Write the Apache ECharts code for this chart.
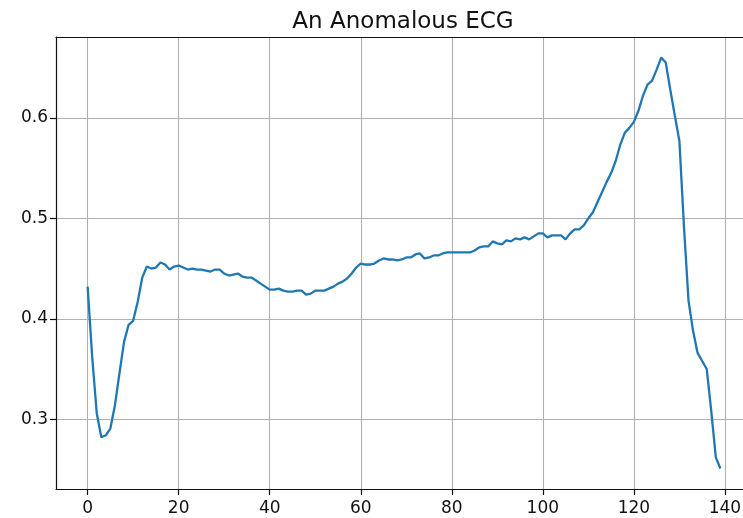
<!DOCTYPE html>
<html>
<head>
<meta charset="utf-8">
<script src="https://cdn.jsdelivr.net/npm/echarts@6/dist/echarts.min.js"></script>
<style>
html,body{margin:0;padding:0;background:#fff;overflow:hidden;width:743px;height:518px;}
#chart{width:753px;height:518px;}
</style>
</head>
<body>
<div id="chart"></div>
<script>
const titleText = "An Anomalous ECG";
const xTicks = [0, 20, 40, 60, 80, 100, 120, 140];
const yTicks = [0.3, 0.4, 0.5, 0.6];
const ecgValues = [
  0.432, 0.362, 0.306, 0.282, 0.284, 0.291, 0.314, 0.346, 0.377, 0.394,
  0.398, 0.417, 0.441, 0.452, 0.450, 0.451, 0.456, 0.454, 0.449, 0.452,
  0.453, 0.451, 0.449, 0.450, 0.449, 0.449, 0.448, 0.447, 0.449, 0.449,
  0.445, 0.443, 0.444, 0.445, 0.442, 0.441, 0.441, 0.438, 0.435, 0.432,
  0.429, 0.429, 0.430, 0.428, 0.427, 0.427, 0.428, 0.428, 0.424, 0.425,
  0.428, 0.428, 0.428, 0.430, 0.432, 0.435, 0.437, 0.440, 0.445, 0.451,
  0.455, 0.454, 0.454, 0.455, 0.458, 0.460, 0.459, 0.459, 0.458, 0.459,
  0.461, 0.461, 0.464, 0.465, 0.460, 0.461, 0.463, 0.463, 0.465, 0.466,
  0.466, 0.466, 0.466, 0.466, 0.466, 0.468, 0.471, 0.472, 0.472, 0.477,
  0.475, 0.474, 0.478, 0.477, 0.480, 0.479, 0.481, 0.479, 0.482, 0.485,
  0.485, 0.481, 0.483, 0.483, 0.483, 0.479, 0.485, 0.489, 0.489, 0.493,
  0.500, 0.506, 0.516, 0.526, 0.536, 0.545, 0.557, 0.573, 0.585, 0.590,
  0.596, 0.607, 0.622, 0.633, 0.637, 0.648, 0.660, 0.655, 0.628, 0.602,
  0.577, 0.492, 0.418, 0.388, 0.366, 0.358, 0.350, 0.308, 0.262, 0.251
];

const points = ecgValues.map((v, i) => [i, v]);
const n = ecgValues.length;
const xPad = (n - 1) * 0.05;
const yMinV = Math.min(...ecgValues), yMaxV = Math.max(...ecgValues);
const yPad = (yMaxV - yMinV) * 0.05;

const chart = echarts.init(document.getElementById('chart'), null, {renderer: 'canvas', width: 753, height: 518});
const font = 'DejaVu Sans';
const spine = {show: true, onZero: false, lineStyle: {color: '#111', width: 1.2}};
chart.setOption({
  animation: false,
  backgroundColor: '#ffffff',
  title: {
    text: titleText,
    left: 398, top: 6,
    textAlign: 'center',
    textStyle: {fontFamily: font, fontSize: 23, fontWeight: 'normal', color: '#111'}
  },
  grid: {
    left: 56, top: 37, right: 1, bottom: 29,
    show: false
  },
  xAxis: [{
    type: 'value',
    position: 'bottom',
    min: -xPad, max: n - 1 + xPad,
    axisLine: spine,
    axisTick: {show: true, inside: false, length: 6, customValues: xTicks, lineStyle: {color: '#111', width: 1.2}},
    axisLabel: {customValues: xTicks, margin: 11, fontFamily: font, fontSize: 17, color: '#111'},
    splitLine: {show: true, lineStyle: {color: '#b0b0b0', width: 1.1}}
  }, {
    type: 'value',
    position: 'top',
    min: -xPad, max: n - 1 + xPad,
    axisLine: spine,
    axisTick: {show: false},
    axisLabel: {show: false},
    splitLine: {show: false}
  }],
  yAxis: {
    type: 'value',
    position: 'left',
    min: yMinV - yPad, max: yMaxV + yPad,
    axisLine: spine,
    axisTick: {show: true, inside: false, length: 6, customValues: yTicks, lineStyle: {color: '#111', width: 1.2}},
    axisLabel: {customValues: yTicks, margin: 8, fontFamily: font, fontSize: 17, color: '#111',
      formatter: v => v.toFixed(1)},
    splitLine: {show: true, lineStyle: {color: '#b0b0b0', width: 1.1}}
  },
  series: [{
    type: 'line',
    xAxisIndex: 0,
    data: points,
    showSymbol: false,
    symbol: 'none',
    lineStyle: {color: '#1f77b4', width: 2.3},
    clip: true
  }]
});
</script>
</body>
</html>
